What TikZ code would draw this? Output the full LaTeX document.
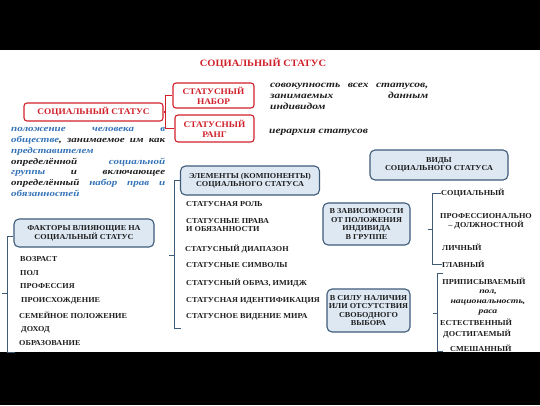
\documentclass[tikz,border=0pt]{standalone}
\usepackage{fontspec}
\setmainfont{Liberation Serif}
\newfontfamily\capsfont[FakeStretch=1.08]{Liberation Serif}
\newfontfamily\handfont[FakeStretch=1.25]{Liberation Serif}
\definecolor{redline}{HTML}{D0202A}
\definecolor{boxedge}{HTML}{3E5B78}
\definecolor{boxfill}{HTML}{DDE8F3}
\definecolor{txtblue}{HTML}{3472B8}
\definecolor{txtdark}{HTML}{1E1E1E}
\begin{document}
\begin{tikzpicture}[x=1pt,y=-1pt,
    capstext/.style={font=\capsfont\bfseries\fontsize{7.6}{8.6}\selectfont, text=txtdark},
    redbox/.style={font=\capsfont\bfseries\fontsize{8.6}{10}\selectfont, text=redline, draw=redline, line width=1.1pt, rounded corners=3pt, align=center, inner sep=1pt},
    bluebox/.style={capstext, draw=boxedge, fill=boxfill, line width=1.1pt, rounded corners=5pt, align=center, inner sep=1pt},
    item/.style={capstext, anchor=west, inner sep=0pt, align=left},
    hand/.style={font=\handfont\bfseries\itshape\fontsize{9.2}{10.9}\selectfont, text=txtdark, inner sep=0pt},
    brk/.style={draw=boxedge, line width=1pt}]
  \useasboundingbox (0,0) rectangle (540,405);
  \fill[black] (0,0) rectangle (540,50);
  \fill[black] (0,352) rectangle (540,405);

  % title and the red part
  \node [font=\capsfont\bfseries\fontsize{9.7}{11}\selectfont, text=redline] (title) at (263,63) {СОЦИАЛЬНЫЙ СТАТУС};
  \node [redbox, minimum width=139pt, minimum height=18pt] (ss) at (93.5,112) {СОЦИАЛЬНЫЙ СТАТУС};
  \node [redbox, minimum width=81pt, minimum height=25pt] (nabor) at (213.5,95.5) {СТАТУСНЫЙ\\НАБОР};
  \node [redbox, minimum width=79pt, minimum height=27pt] (rang) at (214.5,128.5) {СТАТУСНЫЙ\\РАНГ};
  \draw [redline, line width=1.1pt] (ss.east) -- ++(2,0) coordinate (ssj);
  \draw [redline, line width=1.1pt] (ssj) |- (nabor.west);
  \draw [redline, line width=1.1pt] (ssj) |- (rang.west);

  \node [hand, anchor=north west, text width=158pt, align=left] (naborTxt) at (270,83)
    {совокупность \hfill всех \hfill статусов,\\ занимаемых \hfill данным\\ индивидом};
  \node [hand, anchor=west] (rangTxt) at (269,132) {иерархия статусов};
  \node [hand, font=\handfont\bfseries\itshape\fontsize{8.8}{10.9}\selectfont, anchor=north west, text width=154pt, align=left] (defTxt) at (11,127)
    {\textcolor{txtblue}{положение \hfill человека \hfill в}\\
     \textcolor{txtblue}{обществе}, \hfill занимаемое \hfill им \hfill как\\
     \textcolor{txtblue}{представителем}\\
     определённой \hfill \textcolor{txtblue}{социальной}\\
     \textcolor{txtblue}{группы} \hfill и \hfill включающее\\
     определённый \hfill \textcolor{txtblue}{набор \hfill прав \hfill и}\\
     \textcolor{txtblue}{обязанностей}};

  % factors
  \node [bluebox, minimum width=140pt, minimum height=28pt] (fak) at (84,233) {ФАКТОРЫ ВЛИЯЮЩИЕ НА\\СОЦИАЛЬНЫЙ СТАТУС};
  \node [item] (vozr) at (20,259) {ВОЗРАСТ};
  \node [item] (pol) at (20,273) {ПОЛ};
  \node [item] (prof) at (20,286) {ПРОФЕССИЯ};
  \node [item] (proish) at (21,301) {ПРОИСХОЖДЕНИЕ};
  \node [item] (sem) at (19,315) {СЕМЕЙНОЕ ПОЛОЖЕНИЕ};
  \node [item] (dohod) at (21,330) {ДОХОД};
  \node [item] (obraz) at (19,343) {ОБРАЗОВАНИЕ};
  \draw [brk] ([yshift=-3pt]fak.west) -- ++(-6,0) coordinate (fakv) -- ++(0,116) -- ++(8,0);
  \draw [brk] (fakv) ++(0,57) -- ++(-5,0);

  % elements
  \node [bluebox, minimum width=139pt, minimum height=29pt] (elem) at (250,180.5) {ЭЛЕМЕНТЫ (КОМПОНЕНТЫ)\\СОЦИАЛЬНОГО СТАТУСА};
  \node [item] (rol) at (186,204) {СТАТУСНАЯ РОЛЬ};
  \node [item] (prava) at (186,225) {СТАТУСНЫЕ ПРАВА\\И ОБЯЗАННОСТИ};
  \node [item] (diap) at (185,249) {СТАТУСНЫЙ ДИАПАЗОН};
  \node [item] (simv) at (186,265) {СТАТУСНЫЕ СИМВОЛЫ};
  \node [item] (imidzh) at (186,283) {СТАТУСНЫЙ ОБРАЗ, ИМИДЖ};
  \node [item] (ident) at (186,301) {СТАТУСНАЯ ИДЕНТИФИКАЦИЯ};
  \node [item] (videnie) at (186,317) {СТАТУСНОЕ ВИДЕНИЕ МИРА};
  \draw [brk] (elem.west) -- ++(-5.5,0) coordinate (elv) -- ++(0,147.5) -- ++(7,0);
  \draw [brk] (elv) ++(0,74.5) -- ++(-5,0);

  % kinds
  \node [bluebox, minimum width=138pt, minimum height=30pt] (vidy) at (439,165) {ВИДЫ\\СОЦИАЛЬНОГО СТАТУСА};
  \node [bluebox, minimum width=87pt, minimum height=42pt] (zav) at (366.5,224) {В ЗАВИСИМОСТИ\\ОТ ПОЛОЖЕНИЯ\\ИНДИВИДА\\В ГРУППЕ};
  \node [bluebox, minimum width=83pt, minimum height=43pt] (sila) at (368.5,310.5) {В СИЛУ НАЛИЧИЯ\\ИЛИ ОТСУТСТВИЯ\\СВОБОДНОГО\\ВЫБОРА};

  \node [item] (soc) at (441,193) {СОЦИАЛЬНЫЙ};
  \node [capstext, align=center, inner sep=0pt] (profdol) at (486,221) {ПРОФЕССИОНАЛЬНО\\– ДОЛЖНОСТНОЙ};
  \node [item] (lichn) at (442,247) {ЛИЧНЫЙ};
  \node [item] (glavn) at (442,264) {ГЛАВНЫЙ};
  \draw [brk] ([xshift=17pt,yshift=-5pt]zav.east) -- ++(5,0) coordinate (zv);
  \draw [brk] (soc.west) -| (zv) |- (glavn.west);

  \node [capstext, inner sep=0pt] (pripis) at (484,281) {ПРИПИСЫВАЕМЫЙ};
  \node [hand, font=\handfont\bfseries\itshape\fontsize{7.8}{10}\selectfont, align=center] (polnac) at (488,302) {пол,\\национальность,\\раса};
  \node [item] (estest) at (440,322) {ЕСТЕСТВЕННЫЙ};
  \node [item] (dostig) at (443,334) {ДОСТИГАЕМЫЙ};
  \node [item] (smesh) at (450,348) {СМЕШАННЫЙ};
  \draw [brk] ([xshift=22pt,yshift=-2.5pt]sila.east) -- ++(5,0) coordinate (sv);
  \draw [brk] (sv) -- ++(0,-40) -- ++(5,0);
  \draw [brk] (sv) -- ++(0,38) -- ++(5,0);
\end{tikzpicture}
\end{document}
